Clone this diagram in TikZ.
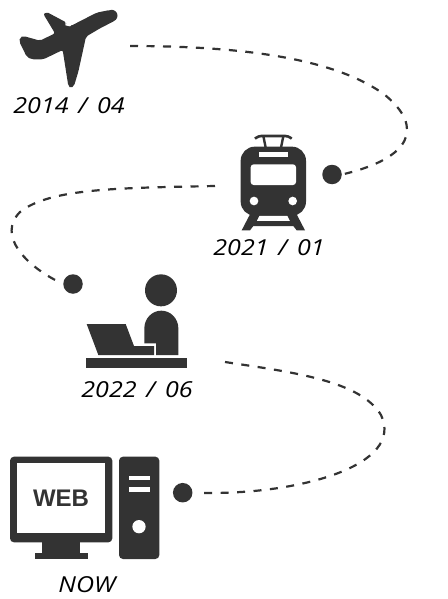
\documentclass[tikz,border=0pt]{standalone}
\usepackage{fontspec}
\setmainfont{Open Sans}[FakeStretch=1.14,WordSpace=1.5]
\newfontfamily\webfont{Liberation Sans}
\definecolor{ink}{HTML}{333333}
\tikzset{
  icon/.style={fill=ink,draw=none},
  hole/.style={fill=white,draw=none},
  datelabel/.style={text=black,font=\fontsize{22}{24}\selectfont\itshape,inner sep=0pt,anchor=center},
  stopdot/.style={circle,fill=ink,draw=none,minimum size=19.5pt,inner sep=0pt},
  route/.style={draw=ink,line width=2.2pt,dash pattern=on 8pt off 8.5pt}
}
\begin{document}
\begin{tikzpicture}[x=1pt,y=-1pt]
\useasboundingbox (0,0) rectangle (447,599);
\fill[white] (0,0) rectangle (447,599);
% plane
\begin{scope}[scale=1/3]
\fill[icon,rounded corners=2pt] (130,42) -- (140,36) -- (200,68) -- (197,75) -- (212,78) -- (290,38) -- (330,30) -- (345,62) -- (300,85) -- (258,110) -- (235,215) -- (222,258) -- (212,265) -- (205,258) -- (188,150) -- (130,178) -- (95,178) -- (80,170) -- (58,125) -- (60,112) -- (70,108) -- (120,122) -- (165,100) -- cycle;
\fill[icon] (335,47) circle (17.5);
\fill[hole] (197,70) -- (214,75) -- (210,79) -- (196,76) -- cycle;
\end{scope}
% train
\begin{scope}[shift={(200,125)},scale=1/3]
\fill[icon,rounded corners=14pt] (122,65) rectangle (318,272);
\fill[hole] (178,82) rectangle (263,97);
\fill[hole,rounded corners=3pt] (152,118) rectangle (288,180);
\fill[hole] (162,228) circle (13);
\fill[hole] (278,228) circle (13);
\fill[icon,even odd rule] (150,268) -- (125,316) -- (150,316) -- (160,303) -- (280,303) -- (290,316) -- (315,316) -- (290,268) -- cycle (178,272) -- (262,272) -- (270,288) -- (170,288) -- cycle;
\draw[ink,line width=2.6pt,rounded corners=3pt] (165,41) -- (175,33) -- (265,33) -- (275,41);
\draw[ink,line width=2.4pt] (190,33) -- (197,68) (250,33) -- (243,68);
\end{scope}
% person at laptop
\begin{scope}[shift={(60,265)},scale=1/3]
\fill[icon] (303,76) circle (48);
\fill[icon] (253,235) -- (288,235) -- (288,270) -- (355,270) -- (355,190) arc[start angle=0,end angle=180,x radius=51,y radius=-53] -- cycle;
\fill[icon] (80,177) -- (197,177) -- (222,243) -- (282,243) -- (282,270) -- (115,270) -- cycle;
\fill[icon] (78,278) rectangle (380,310);
\end{scope}
% computer
\begin{scope}[shift={(0,445)},scale=1/3]
\fill[icon,rounded corners=4pt] (30,35) rectangle (337,292);
\fill[hole] (52,55) rectangle (316,265);
\fill[icon] (127,292) rectangle (240,325);
\fill[icon] (105,325) rectangle (263,342);
\fill[icon,rounded corners=4pt] (357,35) rectangle (478,342);
\fill[hole] (388,92) rectangle (450,105);
\fill[hole] (388,127) rectangle (450,140);
\fill[hole] (417,245) circle (20);
\end{scope}
\node[text=ink,inner sep=0pt,font=\webfont\bfseries\fontsize{24}{24}\selectfont] (web) at (61,498.5) {WEB};
% labels
\node[datelabel] (l1) at (69,106) {2014 / 04};
\node[datelabel] (l2) at (269,248) {2021 / 01};
\node[datelabel] (l3) at (137,390) {2022 / 06};
\node[datelabel] (l4) at (87,585) {NOW};
% stops
\node[stopdot] (d1) at (332,174.5) {};
\node[stopdot] (d2) at (73,284) {};
\node[stopdot] (d3) at (182.7,492.7) {};
\coordinate (s1) at (130,46);
\coordinate (s2) at (215,186);
\coordinate (s3) at (225,362);
% routes
\draw[route,shorten >=3pt] (s1) .. controls (240,46) and (335,58) .. (385,95) .. controls (425,128) and (410,158) .. (d1.east);
\draw[route,shorten >=5pt] (s2) .. controls (120,188) and (50,188) .. (20,212) .. controls (-3,235) and (25,265) .. (d2.west);
\draw[route,shorten >=8pt] (s3) .. controls (290,372) and (360,380) .. (381,415) .. controls (405,465) and (300,495) .. (d3.east);
\end{tikzpicture}
\end{document}
